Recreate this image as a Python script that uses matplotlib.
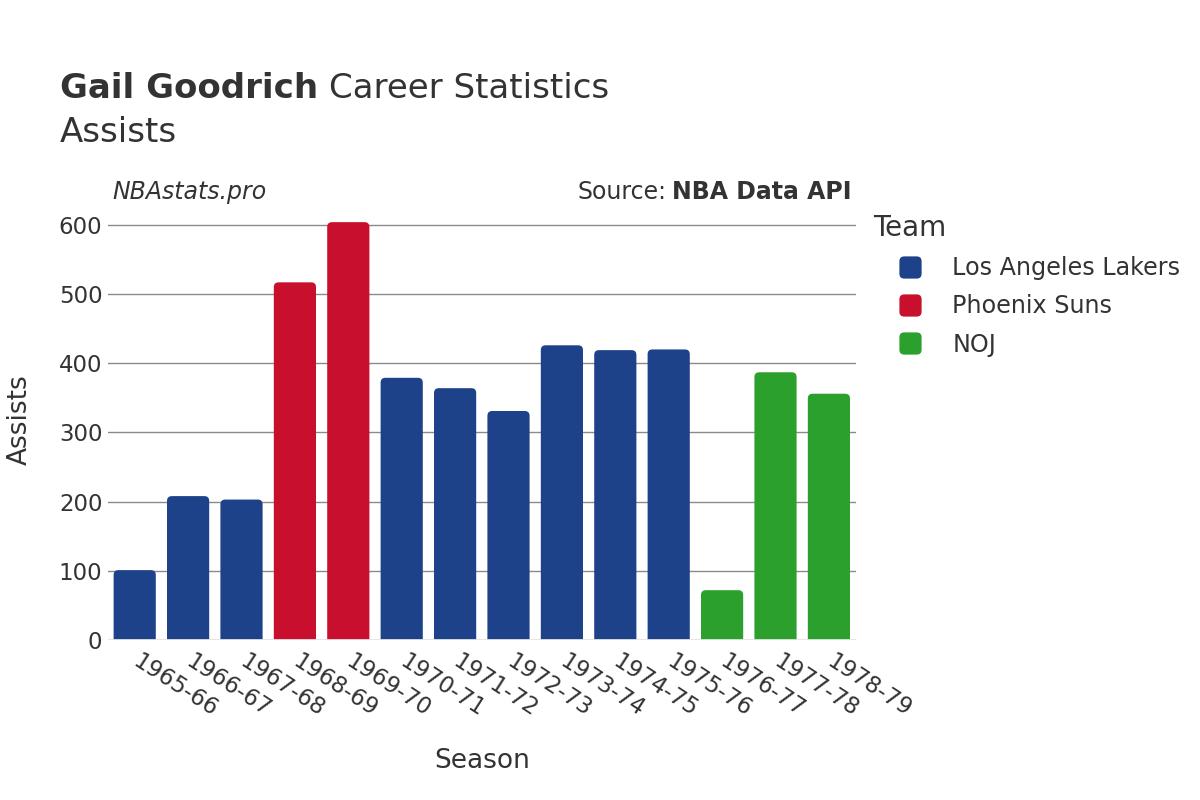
import matplotlib
matplotlib.use('Agg')
from matplotlib import pyplot as plt
from matplotlib.patches import FancyBboxPatch, BoxStyle
from matplotlib.lines import Line2D

seasons = ['1965-66', '1966-67', '1967-68', '1968-69', '1969-70', '1970-71', '1971-72',
           '1972-73', '1973-74', '1974-75', '1975-76', '1976-77', '1977-78', '1978-79']
assists = [101, 208, 203, 517, 604, 379, 364, 331, 426, 419, 420, 72, 387, 356]
teams = ['Los Angeles Lakers', 'Los Angeles Lakers', 'Los Angeles Lakers', 'Phoenix Suns',
         'Phoenix Suns', 'Los Angeles Lakers', 'Los Angeles Lakers', 'Los Angeles Lakers',
         'Los Angeles Lakers', 'Los Angeles Lakers', 'Los Angeles Lakers', 'NOJ', 'NOJ', 'NOJ']
team_names = ['Los Angeles Lakers', 'Phoenix Suns', 'NOJ']
team_colors = {'Los Angeles Lakers': '#1D428A', 'Phoenix Suns': '#C8102E', 'NOJ': '#2CA02C'}
yticks = [0, 100, 200, 300, 400, 500, 600]

txt = '#333333'
plt.rcParams['font.family'] = ['DejaVu Sans']

fig = plt.figure(figsize=(12, 8), dpi=100)
ax = fig.add_axes([0.09, 0.2, 0.623, 0.55])

x = list(range(len(seasons)))
bars = ax.bar(x, assists, width=0.79, color=[team_colors[t] for t in teams], zorder=2)

# swap the plain rectangles for ones with rounded tops
for b, t in zip(bars, teams):
    b.set_visible(False)
    x0, w, h = b.get_x(), b.get_width(), b.get_height()
    p = FancyBboxPatch((x0, -20), w, h + 20, boxstyle='round,pad=0,rounding_size=0.09',
                       mutation_aspect=77, facecolor=team_colors[t], edgecolor='none', zorder=2)
    ax.add_patch(p)

ax.set_xlim(-0.5, len(seasons) - 0.5)
ax.set_ylim(0, 636)
ax.set_yticks(yticks)
ax.set_yticklabels([str(v) for v in yticks], fontsize=16.5, color=txt)
ax.set_xticks(x)
ax.set_xticklabels(seasons, rotation=-33, ha='left', va='center', rotation_mode='anchor',
                   fontsize=16.5, color=txt)
ax.tick_params(axis='both', length=0)
ax.tick_params(axis='y', pad=4)
ax.tick_params(axis='x', pad=14)
ax.grid(axis='y', color='#8a8a8a', linewidth=1, zorder=0)
ax.axhline(0, color='#e6e6e6', linewidth=2, zorder=3)
for s in ax.spines.values():
    s.set_visible(False)

ax.set_xlabel('Season', fontsize=19, color=txt, labelpad=19)
ax.set_ylabel('Assists', fontsize=19, color=txt, labelpad=19)

fig.canvas.draw()
r = fig.canvas.get_renderer()
inv = fig.transFigure.inverted()

t1 = fig.text(0.05, 0.89, 'Gail Goodrich', fontsize=24.5, fontweight='bold', color=txt, va='center')
e1 = inv.transform(t1.get_window_extent(r))
fig.text(e1[1][0] + 0.009, 0.89, 'Career Statistics', fontsize=24.5, color=txt, va='center')
fig.text(0.05, 0.835, 'Assists', fontsize=24.5, color=txt, va='center')

fig.text(0.094, 0.76, 'NBAstats.pro', fontsize=17, style='italic', color=txt, va='center')
t2 = fig.text(0.71, 0.76, 'NBA Data API', fontsize=17, fontweight='bold', color=txt, va='center', ha='right')
e2 = inv.transform(t2.get_window_extent(r))
fig.text(e2[0][0] - 0.005, 0.76, 'Source:', fontsize=17, color=txt, va='center', ha='right')

rounded = BoxStyle.Round(pad=0, rounding_size=0.22)(-0.5, -0.5, 1, 1, 1.0)
handles = [Line2D([], [], linestyle='none', marker=rounded, markersize=16,
                  markerfacecolor=team_colors[n], markeredgecolor='none') for n in team_names]
leg = fig.legend(handles, team_names, loc='upper left', bbox_to_anchor=(0.72, 0.745),
                 title='Team', frameon=False, fontsize=17.2, title_fontsize=20,
                 labelspacing=0.6, handlelength=3.05, handletextpad=0.25, borderaxespad=0)
leg._legend_box.align = 'left'
for t in leg.get_texts():
    t.set_color(txt)
leg.get_title().set_color(txt)

fig.savefig('out.png', dpi=100)
